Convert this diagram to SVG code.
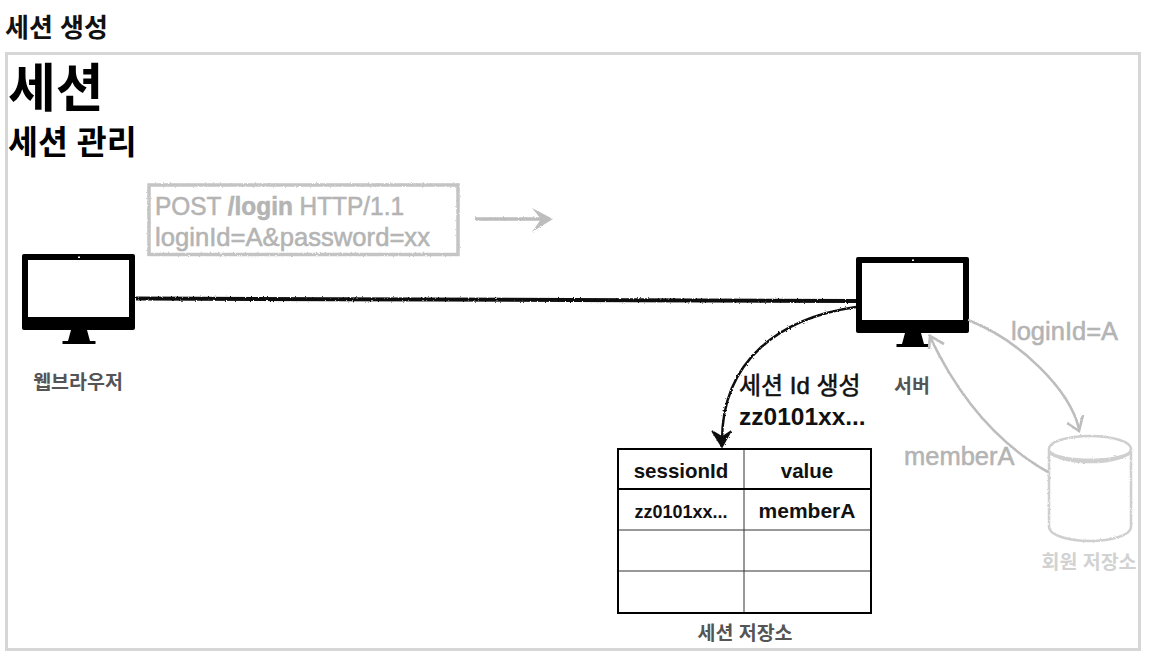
<svg xmlns="http://www.w3.org/2000/svg" width="1154" height="668" viewBox="0 0 1154 668">
<style>
text{font-family:"Liberation Sans","Noto Sans CJK KR",sans-serif}
.b{font-weight:700}
.med{stroke-width:0.55px}
.mon{fill:#000}
.scr{fill:#fff}
.gt{fill:#b4b4b4;stroke:#b4b4b4}
.gl{fill:none;stroke:#bdbdbd;stroke-width:2.6}
.bl{fill:none;stroke:#111;stroke-width:2.4}
.cell{stroke:#333;stroke-width:1;fill:none}
.thick{stroke:#000;stroke-width:2;fill:none}
.cap{font-size:19.500px;fill:#555;font-weight:700;text-anchor:middle}
.tt{font-size:20.500px;font-weight:700;fill:#111;text-anchor:middle}
</style>
<defs>
<filter id="roughU" filterUnits="userSpaceOnUse" x="0" y="0" width="1154" height="668">
<feTurbulence type="fractalNoise" baseFrequency="0.6" numOctaves="2" seed="3"/>
<feDisplacementMap in="SourceGraphic" scale="2.500"/>
</filter>
<g id="monitor">
<rect x="0" y="0" width="113" height="76" rx="2" class="mon"/>
<rect x="6" y="6" width="101" height="57" class="scr"/>
<rect x="56" y="2.500" width="2" height="1.500" class="scr"/>
<path d="M49 76H65L68 87H73.500V90H40.500V87H46Z" class="mon"/>
</g>
</defs>
<text x="5" y="37" font-size="26" class="b" fill="#111">세션 생성</text>
<rect id="frame" x="6.500" y="53.500" width="1133" height="596" fill="none" stroke="#d6d6d6" stroke-width="3"/>
<text x="8" y="107" font-size="52" class="b" fill="#000">세션</text>
<text x="8" y="154" font-size="32.500" class="b" fill="#000">세션 관리</text>

<g id="request">
<rect x="149" y="185" width="309" height="69.500" fill="none" stroke="#c4c4c4" stroke-width="3.500" filter="url(#roughU)"/>
<text x="155" y="215" font-size="25" class="gt med" textLength="249" lengthAdjust="spacingAndGlyphs">POST <tspan font-weight="700">/login</tspan> HTTP/1.1</text>
<text x="155" y="246" font-size="25.500" class="gt med" textLength="275" lengthAdjust="spacingAndGlyphs">loginId=A&amp;password=xx</text>
</g>

<g id="browser">
<use href="#monitor" x="22" y="254"/>
<text x="78" y="389" class="cap">웹브라우저</text>
</g>
<g id="server">
<use href="#monitor" x="856" y="257"/>
<text x="912" y="393" class="cap">서버</text>
</g>

<g id="session-store">
<path d="M744 449V613M618 530H871M618 571H871" class="cell"/>
<path d="M618 489H871" class="thick"/>
<rect x="618" y="449" width="253" height="164" class="thick"/>
<text x="681" y="478" class="tt">sessionId</text>
<text x="807" y="478" class="tt">value</text>
<text x="681" y="518" font-size="18" font-weight="700" fill="#111" text-anchor="middle">zz0101xx...</text>
<text x="807" y="518" class="tt" style="font-size:21px">memberA</text>
<text x="745" y="640" class="cap">세션 저장소</text>
</g>

<g id="member-store">
<g fill="none" stroke="#cfcfcf" stroke-width="2.500" filter="url(#roughU)">
<ellipse cx="1090" cy="449" rx="41" ry="13"/>
<path d="M1049 449V527C1049 535 1068 541 1090 541S1131 535 1131 527V449"/>
<path d="M1049 452C1060 463 1120 463 1131 452" stroke-width="3.500"/>
</g>
<text x="1089" y="569" font-size="19.500" font-weight="700" fill="#d2d2d2" text-anchor="middle">회원 저장소</text>
</g>

<g id="connectors">
<path d="M136 298.500L856 301" fill="none" stroke="#111" stroke-width="4" filter="url(#roughU)"/>
<g filter="url(#roughU)">
<path d="M475 219H548" fill="none" stroke="#bdbdbd" stroke-width="3.500"/>
<path d="M532 208L553 219L532 232L541 219Z" fill="#bdbdbd"/>
<path d="M856 307C780 318 722 360 722 441" class="bl"/>
<path d="M712 431L722 437L731 431L722 447Z" fill="#111" stroke="#111" stroke-width="1.500"/>
<path d="M968 320C1020 340 1070 390 1079 429" class="gl"/>
<path d="M1067 423L1079 431L1083 415" class="gl"/>
<path d="M1048 472C1000 445 960 400 930 337" class="gl"/>
<path d="M929 349L930 336L944 344" class="gl"/>
</g>
</g>
<g id="labels" font-size="24">
<text x="739" y="394" stroke="#111" class="med" fill="#111">세션 Id 생성</text>
<text x="739" y="425" font-size="24.500" font-weight="700" fill="#111">zz0101xx...</text>
<text x="1011" y="340" font-size="25.500" class="gt med">loginId=A</text>
<text x="904" y="465" font-size="25.500" class="gt med">memberA</text>
</g>
</svg>
